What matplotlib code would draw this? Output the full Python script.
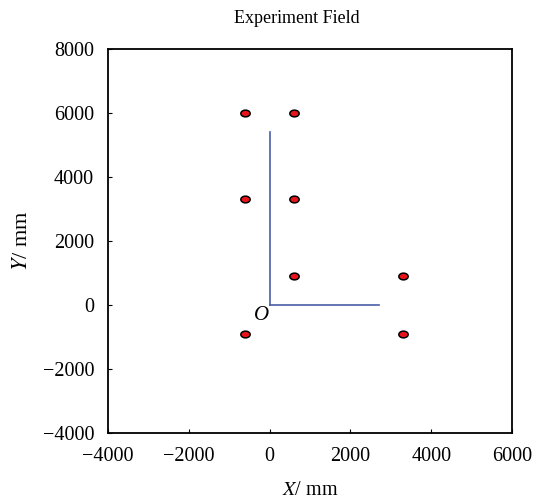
import matplotlib
matplotlib.use('Agg')
import matplotlib.pyplot as plt
import numpy as np
from matplotlib.path import Path

plt.rcParams['font.family'] = 'Liberation Serif'
plt.rcParams['mathtext.fontset'] = 'stix'

# sensor positions (mm)
px = [-620, 600, -620, 600, 600, 3300, -620, 3300]
py = [6000, 6000, 3300, 3300, 900, 900, -900, -900]

# coordinate axes drawn in the field
ax_x = [0, 2700]
ax_y = [0, 5400]

# elliptical marker
t = np.linspace(0, 2 * np.pi, 60)
ell = Path(np.column_stack([np.cos(t), 0.72 * np.sin(t)]), closed=True)

fig = plt.figure(figsize=(5.35, 4.99), dpi=100)
ax = fig.add_axes([0.202, 0.132, 0.755, 0.770])

ax.plot([ax_x[0], ax_x[1]], [0, 0], color='#4a5fa8', lw=1.2)
ax.plot([0, 0], [ax_y[0], ax_y[1]], color='#4a5fa8', lw=1.2)
ax.scatter(px, py, marker=ell, s=45, facecolor='#e8141c', edgecolor='black', linewidths=1.1, zorder=3)
ax.text(-200, -330, 'O', fontstyle='italic', fontsize=15, ha='center', va='center')

ax.set_xlim(-4000, 6000)
ax.set_ylim(-4000, 8000)
ax.set_xticks([-4000, -2000, 0, 2000, 4000, 6000])
ax.set_yticks([-4000, -2000, 0, 2000, 4000, 6000, 8000])
ax.tick_params(direction='in', length=3, labelsize=14.5, pad=10)
for s in ax.spines.values():
    s.set_linewidth(1.3)

ax.set_title('Experiment Field', fontsize=13, pad=19, x=0.468)
ax.set_xlabel(r'$X$/ mm', fontsize=14.5, labelpad=11)
ax.set_ylabel(r'$Y$/ mm', fontsize=16, labelpad=8)

fig.savefig('out.png', dpi=100)
